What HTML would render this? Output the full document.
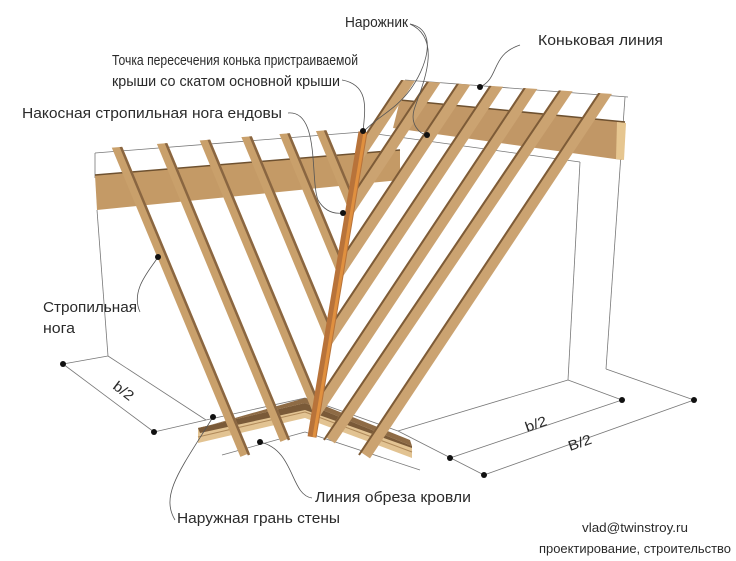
<!DOCTYPE html>
<html><head><meta charset="utf-8"><style>
html,body{margin:0;padding:0;background:#fff;}
svg{display:block;}
text{font-family:"Liberation Sans Narrow","Liberation Sans",sans-serif;fill:#2a2a2a;}
</style></head><body>
<svg width="736" height="561" viewBox="0 0 736 561" xmlns="http://www.w3.org/2000/svg">
<defs>
<clipPath id="cl"><polygon points="0,149 95,149 366,127 292,561 0,561"/></clipPath>
<clipPath id="cr"><polygon points="372,78 628,95 736,95 736,561 290,561"/></clipPath>
</defs>
<g stroke="#777" stroke-width="0.8" fill="none">
<line x1="95" y1="153" x2="362" y2="132"/>
<line x1="405" y1="80" x2="628" y2="97"/>
<line x1="362" y1="132" x2="580" y2="162"/>
<line x1="95" y1="153" x2="95" y2="178"/>
<line x1="97" y1="210" x2="108" y2="356"/>
<line x1="580" y1="162" x2="568" y2="380"/>
<line x1="625" y1="97" x2="606" y2="369"/>
<line x1="108" y1="356" x2="63" y2="364"/>
<line x1="108" y1="356" x2="206" y2="420"/>
<line x1="63" y1="364" x2="154" y2="432"/>
<line x1="154" y1="432" x2="206" y2="420"/>
<line x1="206" y1="420" x2="305" y2="398"/>
<line x1="305" y1="398" x2="398" y2="431"/>
<line x1="398" y1="431" x2="568" y2="380"/>
<line x1="568" y1="380" x2="622" y2="400"/>
<line x1="606" y1="369" x2="694" y2="400"/>
<line x1="398" y1="431" x2="484" y2="475"/>
<line x1="450" y1="458" x2="622" y2="400"/>
<line x1="484" y1="475" x2="694" y2="400"/>
<line x1="222" y1="455" x2="305" y2="432"/>
<line x1="305" y1="432" x2="420" y2="470"/>
</g>
<polygon points="95,175 400,150 400,180 97,210" fill="#c49a66"/>
<line x1="95" y1="175" x2="400" y2="150" stroke="#6e5130" stroke-width="1.5"/>
<polygon points="400,100 625,122 622,160 393,128" fill="#c19766"/>
<line x1="400" y1="100" x2="625" y2="122" stroke="#6e5130" stroke-width="1.5"/>
<polygon points="617,122 626,123 624,160 616,159" fill="#e6c690"/>
<!-- bottom plate -->
<polygon points="198,428 305,403 412,446 412,458 305,418 198,443" fill="#e2c392"/>
<polygon points="198,428 305,403 412,446 412,448 305,410 200,433" fill="#7a5a38"/>
<polygon points="200,428 305,398 410,440 412,446 305,403 198,428" fill="#8e6b45"/>
<line x1="198" y1="437" x2="305" y2="412" stroke="#b08a5a" stroke-width="1"/>
<line x1="305" y1="412" x2="412" y2="452" stroke="#b08a5a" stroke-width="1"/>
<g clip-path="url(#cl)">
<g stroke="#c9a06b" stroke-width="10">
<line x1="114" y1="140" x2="245" y2="455"/>
<line x1="159" y1="136" x2="285" y2="440"/>
<line x1="202" y1="133" x2="336" y2="455"/>
<line x1="243" y1="128" x2="379" y2="455"/>
<line x1="281" y1="125" x2="418" y2="455"/>
<line x1="318" y1="123" x2="456" y2="455"/>
</g>
<g stroke="#8a6641" stroke-width="2.5">
<line x1="118" y1="140" x2="249" y2="455"/>
<line x1="163" y1="136" x2="289" y2="440"/>
<line x1="206" y1="133" x2="340" y2="455"/>
<line x1="247" y1="128" x2="383" y2="455"/>
<line x1="285" y1="125" x2="422" y2="455"/>
<line x1="322" y1="123" x2="460" y2="455"/>
</g>
</g>
<g clip-path="url(#cr)">
<g stroke="#cba371" stroke-width="12">
<line x1="415" y1="70" x2="159" y2="455"/>
<line x1="441" y1="71" x2="186" y2="455"/>
<line x1="471" y1="73" x2="217" y2="455"/>
<line x1="503" y1="76" x2="251" y2="455"/>
<line x1="536" y1="80" x2="287" y2="455"/>
<line x1="571" y1="83" x2="330" y2="440"/>
<line x1="612" y1="83" x2="365" y2="455"/>
</g>
<g stroke="#7d5b37" stroke-width="2">
<line x1="409" y1="70" x2="153" y2="455"/>
<line x1="435" y1="71" x2="180" y2="455"/>
<line x1="465" y1="73" x2="211" y2="455"/>
<line x1="497" y1="76" x2="245" y2="455"/>
<line x1="530" y1="80" x2="281" y2="455"/>
<line x1="565" y1="83" x2="324" y2="440"/>
<line x1="606" y1="83" x2="359" y2="455"/>
</g>
</g>
<line x1="363" y1="132" x2="312" y2="437" stroke="#b8733a" stroke-width="9"/>
<line x1="365" y1="132" x2="314" y2="437" stroke="#e0903f" stroke-width="3"/>
<g stroke="#555" stroke-width="0.8" fill="none">
<path d="M410,24 C440,30 425,70 410,90 C395,110 380,115 363,132"/>
<path d="M342,80 C370,85 365,110 363,132"/>
<path d="M288,113 C320,110 310,180 318,200 C325,212 335,214 343,213"/>
<path d="M520,45 C490,55 500,78 480,87"/>
<path d="M410,24 C445,40 420,90 414,110 C410,125 420,134 427,135"/>
<path d="M140,312 C130,290 150,270 158,257"/>
<path d="M175,520 C160,495 180,470 213,417"/>
<path d="M312,498 C290,495 295,450 260,442"/>
</g>
<g fill="#111">
<circle cx="363" cy="131" r="3"/><circle cx="427" cy="135" r="3"/><circle cx="480" cy="87" r="3"/>
<circle cx="343" cy="213" r="3"/><circle cx="158" cy="257" r="3"/><circle cx="213" cy="417" r="3"/>
<circle cx="260" cy="442" r="3"/><circle cx="63" cy="364" r="3"/><circle cx="154" cy="432" r="3"/>
<circle cx="450" cy="458" r="3"/><circle cx="484" cy="475" r="3"/><circle cx="622" cy="400" r="3"/><circle cx="694" cy="400" r="3"/>
</g>
<g font-size="15">
<text x="345" y="27" textLength="63" lengthAdjust="spacingAndGlyphs">Нарожник</text>
<text x="538" y="45" textLength="125" lengthAdjust="spacingAndGlyphs">Коньковая линия</text>
<text x="112" y="65" textLength="246" lengthAdjust="spacingAndGlyphs">Точка пересечения конька пристраиваемой</text>
<text x="112" y="86" textLength="228" lengthAdjust="spacingAndGlyphs">крыши со скатом основной крыши</text>
<text x="22" y="118" textLength="260" lengthAdjust="spacingAndGlyphs">Накосная стропильная нога ендовы</text>
<text x="43" y="312" textLength="94" lengthAdjust="spacingAndGlyphs">Стропильная</text>
<text x="43" y="333" textLength="32" lengthAdjust="spacingAndGlyphs">нога</text>
<text x="315" y="502" textLength="156" lengthAdjust="spacingAndGlyphs">Линия обреза кровли</text>
<text x="177" y="523" textLength="163" lengthAdjust="spacingAndGlyphs">Наружная грань стены</text>
</g>
<g font-size="14">
<text transform="translate(112,388) rotate(37)" textLength="22" lengthAdjust="spacingAndGlyphs">b/2</text>
<text transform="translate(527,432) rotate(-19)" textLength="22" lengthAdjust="spacingAndGlyphs">b/2</text>
<text transform="translate(570,451) rotate(-19)" textLength="24" lengthAdjust="spacingAndGlyphs">B/2</text>
</g>
<g font-size="13">
<text x="582" y="532" textLength="106" lengthAdjust="spacingAndGlyphs">vlad@twinstroy.ru</text>
<text x="539" y="553" textLength="192" lengthAdjust="spacingAndGlyphs">проектирование, строительство</text>
</g>
</svg>
</body></html>
